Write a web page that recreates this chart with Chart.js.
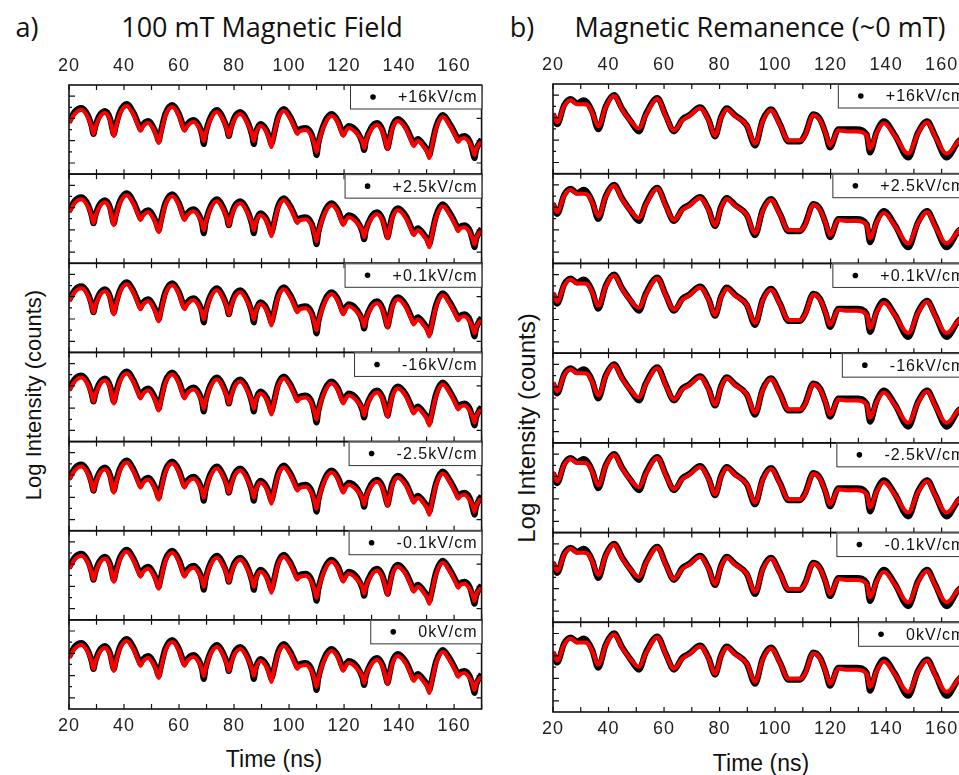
<!DOCTYPE html>
<html>
<head>
<meta charset="utf-8">
<script src="https://cdn.jsdelivr.net/npm/chart.js@4.4.0/dist/chart.umd.min.js"></script>
<style>
html, body { margin: 0; padding: 0; width: 959px; height: 775px; overflow: hidden; background: #fff; }
.t { position: absolute; white-space: nowrap; color: #111; transform: translate(-50%, -50%); }
canvas { position: absolute; top: 0; }
</style>
</head>
<body>
<div class="t" style="left:27px;top:26px;font:27px 'Open Sans'">a)</div>
<div class="t" style="left:262px;top:26px;font:27px 'Open Sans'">100 mT Magnetic Field</div>
<div class="t" style="left:522px;top:26px;font:27px 'Open Sans'">b)</div>
<div class="t" style="left:760px;top:26px;font:27px 'Open Sans'">Magnetic Remanence (~0 mT)</div>
<div class="t" style="left:34px;top:395px;font:22px 'Liberation Sans';transform:translate(-50%,-50%) rotate(-90deg)">Log Intensity (counts)</div>
<div class="t" style="left:527px;top:428px;font:24px 'Liberation Sans';transform:translate(-50%,-50%) rotate(-90deg)">Log Intensity (counts)</div>
<div class="t" style="left:274px;top:759px;font:23px 'Liberation Sans'">Time (ns)</div>
<div class="t" style="left:761px;top:763px;font:23px 'Liberation Sans'">Time (ns)</div>
<canvas id="chartA" width="500" height="775" style="left:0"></canvas>
<canvas id="chartB" width="500" height="775" style="left:500px"></canvas>
<script>
// field labels, top row first
const fieldLabels = ['+16kV/cm', '+2.5kV/cm', '+0.1kV/cm', '-16kV/cm', '-2.5kV/cm', '-0.1kV/cm', '0kV/cm'];
const tickLabels = [20, 40, 60, 80, 100, 120, 140, 160];
const minorTicks = [20, 30, 40, 50, 60, 70, 80, 90, 100, 110, 120, 130, 140, 150, 160, 170];

// a) 100 mT: time (ns), fit and measured log intensity (arb.)
const timeA = [20, 22, 24.5, 27, 28.3, 28.9, 29.5, 31, 33.1, 35,
  35.7, 36.3, 36.9, 38.5, 41, 43.5, 45.5, 46, 46.5, 48.8,
  51, 52, 52.6, 53.2, 55, 57.6, 60, 61.5, 62, 62.5,
  65.3, 67.5, 68.4, 69, 69.6, 71.5, 73.8, 76, 77.5, 78.1,
  78.7, 80.2, 82.3, 84.8, 86.6, 87.2, 87.8, 89.6, 91.8, 93,
  93.6, 94.2, 96, 98.1, 100.5, 102.5, 103, 103.5, 106, 108.3,
  109.4, 110, 110.6, 113, 115.5, 117.8, 119.2, 119.7, 120.2, 121.7,
  124.8, 126.7, 127.3, 127.9, 129.8, 132, 134, 135.2, 135.8, 136.4,
  137.5, 139.5, 142.5, 144.8, 145.3, 145.8, 146.8, 149, 150.4, 151,
  151.6, 153.5, 155.9, 158.5, 161, 161.5, 162, 163.7, 165.8, 166.8,
  167.4, 168, 170];
const fitA = [51, 60, 64, 56, 46, 40, 46, 56, 61, 53,
  44, 38, 45, 60, 68, 59, 46, 43, 46, 51,
  43, 36, 31, 38, 58, 67, 58, 46, 43, 46,
  52, 45, 39, 33, 40, 55, 62, 54, 44, 38,
  44, 55, 60, 51, 39, 33, 40, 48, 42, 33,
  27, 35, 55, 63, 55, 43, 40, 42, 44, 37,
  28, 22, 30, 50, 58, 51, 41, 38, 41, 46,
  40, 32, 26, 33, 44, 49, 42, 31, 25, 32,
  45, 53, 45, 31, 28, 30, 33, 27, 21, 16,
  24, 46, 57, 48, 35, 32, 34, 36, 30, 24,
  19, 25, 33];
const dataA = [52, 62, 66, 58, 47, 40, 47, 58, 63, 55,
  46, 40, 47, 62, 70, 61, 48, 45, 48, 53,
  45, 38, 33, 40, 60, 69, 60, 48, 45, 48,
  54, 47, 39, 30, 40, 57, 64, 56, 45, 38,
  45, 57, 62, 53, 38, 30, 40, 50, 44, 35,
  30, 36, 57, 65, 57, 45, 42, 44, 46, 39,
  27, 19, 30, 52, 60, 53, 43, 40, 43, 48,
  42, 31, 24, 33, 46, 51, 44, 32, 26, 33,
  47, 55, 47, 33, 30, 32, 35, 29, 23, 19,
  25, 48, 59, 50, 37, 34, 36, 38, 32, 22,
  16, 24, 35];

// b) remanence
const timeB = [20, 21.5, 24, 26.4, 28.7, 31, 32.5, 34.2, 36.3, 39, 42, 45, 48, 51, 53.4, 57.6, 60.6, 63.6, 66.6, 69,
  73, 76, 78.4, 80.5, 82.6, 85.6, 89.8, 92.8, 95.5, 98.5, 101.8, 104.8, 109, 110.8, 113.8, 116.2, 118.2, 119.8,
  122.8, 126, 129.5, 133, 134.2, 136.5, 139.2, 143.2, 148, 151.5, 154.8, 157.6, 161.8, 166, 170];
const fitB = [60, 51, 67, 73, 69, 69, 68, 60, 47, 66, 77, 63, 52, 45, 58, 74, 57, 43, 53, 57,
  65, 53, 38, 55, 64, 57, 48, 30, 52, 63, 48, 33, 33, 38, 58, 53, 40, 28,
  43, 42, 42, 38, 25, 40, 50, 37, 20, 40, 51, 37, 20, 32, 40];
const dataB = [59, 49, 68, 74, 70, 73, 70, 61, 44, 67, 78, 64, 52, 42, 59, 75, 58, 42, 54, 58,
  66, 54, 37, 56, 65, 58, 48, 28, 53, 64, 49, 32, 32, 39, 59, 54, 40, 26,
  44, 44, 44, 39, 21, 41, 52, 38, 16, 41, 52, 38, 16, 32, 40];

const framePlugin = {
  id: 'frames',
  afterDatasetsDraw(chart) {
    const { ctx, chartArea: a, scales } = chart;
    const x = scales.x;
    ctx.save();
    for (let k = 0; k < fieldLabels.length; k++) {
      const y = scales['y' + k];
      ctx.strokeStyle = '#111';
      ctx.lineWidth = 1.6;
      ctx.strokeRect(a.left, y.top, a.right - a.left, y.bottom - y.top);
      ctx.lineWidth = 1.2;
      ctx.beginPath();
      minorTicks.forEach(t => {
        const px = x.getPixelForValue(t);
        ctx.moveTo(px, y.top); ctx.lineTo(px, y.top + 5);
        ctx.moveTo(px, y.bottom); ctx.lineTo(px, y.bottom - 5);
      });
      for (let j = 1; j < 8; j++) {
        const py = y.getPixelForValue(j * 89 / 8);
        ctx.moveTo(a.left, py); ctx.lineTo(a.left + (j % 2 ? 6 : 3), py);
        if (j % 2) { ctx.moveTo(a.right, py); ctx.lineTo(a.right - 5, py); }
      }
      ctx.stroke();
      // legend box
      ctx.font = '16px "Liberation Sans"';
      ctx.letterSpacing = '1px';
      const tw = ctx.measureText(fieldLabels[k]).width;
      const left = a.right - tw - 52;
      ctx.fillStyle = '#fff';
      ctx.fillRect(left, y.top, a.right - left, 24);
      ctx.strokeStyle = '#333';
      ctx.lineWidth = 1;
      ctx.strokeRect(left + 0.5, y.top + 0.5, a.right - left, 23.5);
      ctx.fillStyle = '#000';
      ctx.beginPath();
      ctx.arc(left + 23, y.top + 12, 2.8, 0, Math.PI * 2);
      ctx.fill();
      ctx.fillStyle = '#111';
      ctx.textBaseline = 'middle';
      ctx.textAlign = 'left';
      ctx.fillText(fieldLabels[k], left + 48, y.top + 13);
    }
    // tick labels top and bottom
    ctx.font = '18px "Liberation Sans"';
    ctx.letterSpacing = '1px';
    ctx.fillStyle = '#222';
    ctx.textAlign = 'center';
    ctx.textBaseline = 'middle';
    tickLabels.forEach(t => {
      const px = x.getPixelForValue(t);
      ctx.fillText(String(t), px, a.top - 19);
      ctx.fillText(String(t), px, a.bottom + 17);
    });
    ctx.restore();
  }
};

function makePanel(id, times, fit, data, pad) {
  const datasets = [];
  const scales = { x: { type: 'linear', min: 20, max: 170, display: false } };
  fieldLabels.forEach((lab, k) => {
    const yid = 'y' + k;
    scales[yid] = { type: 'linear', min: 0, max: 89, display: false, position: 'right', stack: 'rows', stackWeight: 1 };
    datasets.push({
      label: lab + ' fit', yAxisID: yid, order: 0,
      data: times.map((t, i) => ({ x: t, y: fit[i] })),
      borderColor: '#ff0000', borderWidth: 4, pointRadius: 0, cubicInterpolationMode: 'monotone'
    });
    datasets.push({
      label: lab, yAxisID: yid, order: 1,
      data: times.map((t, i) => ({ x: t, y: data[i] })),
      borderColor: '#000', borderWidth: 6, pointRadius: 0, cubicInterpolationMode: 'monotone'
    });
  });
  return new Chart(document.getElementById(id), {
    type: 'line',
    data: { datasets },
    options: {
      responsive: false, animation: false,
      layout: { padding: pad },
      plugins: { legend: { display: false }, tooltip: { enabled: false } },
      scales
    },
    plugins: [framePlugin]
  });
}

makePanel('chartA', timeA, fitA, dataA, { left: 69, right: 18.4, top: 85, bottom: 66 });
makePanel('chartB', timeB, fitB, dataB, { left: 53, right: 30.6, top: 84, bottom: 63 });
</script>
</body>
</html>
